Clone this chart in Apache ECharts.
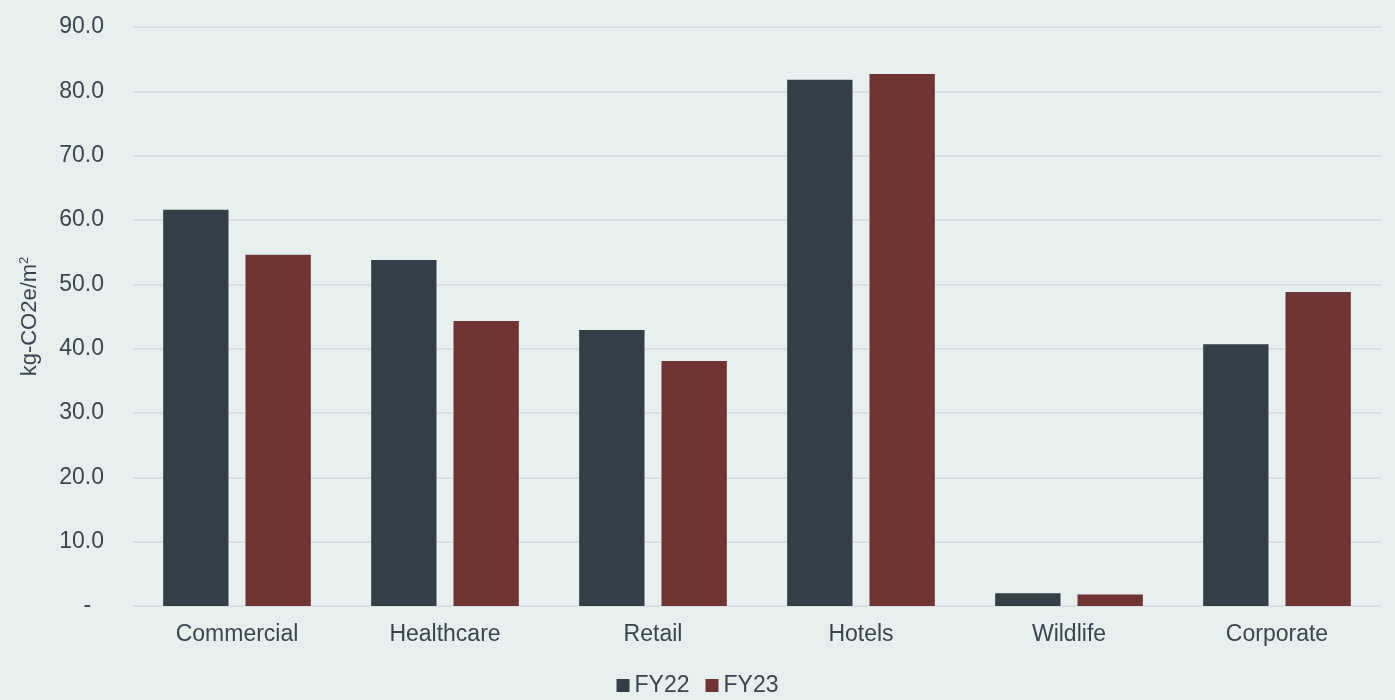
<!DOCTYPE html>
<html>
<head>
<meta charset="utf-8">
<style>
  html, body { margin: 0; padding: 0; background: #e6f0ee; }
  #chart { width: 1395px; height: 700px; }
</style>
<script src="https://cdn.jsdelivr.net/npm/echarts@6/dist/echarts.min.js"></script>
</head>
<body>
<div id="chart"></div>
<script>
// chart data
var categories = ['Commercial', 'Healthcare', 'Retail', 'Hotels', 'Wildlife', 'Corporate'];
var fy22 = [61.6, 53.8, 42.9, 81.8, 2.0, 40.7];
var fy23 = [54.6, 44.3, 38.1, 82.7, 1.8, 48.8];

var textColor = '#3b4550';
var font = 'Liberation Sans, Arial, sans-serif';

var chart = echarts.init(document.getElementById('chart'));
chart.setOption({
    backgroundColor: '#e6f0ee',
    animation: false,
    grid: {
        left: 133,
        right: 14,
        top: 27,
        bottom: 94
    },
    legend: {
        bottom: -2,
        left: 'center',
        itemWidth: 13,
        itemHeight: 13,
        itemGap: 16,
        icon: 'rect',
        textStyle: { color: textColor, fontSize: 23, fontFamily: font },
        data: ['FY22', 'FY23']
    },
    xAxis: {
        type: 'category',
        data: categories,
        axisLine: { show: false },
        axisTick: { show: false },
        axisLabel: { color: textColor, fontSize: 23, fontFamily: font, margin: 17 }
    },
    yAxis: {
        type: 'value',
        min: 0,
        max: 90,
        interval: 10,
        name: '{n|kg-CO2e/m}{s|2}',
        nameLocation: 'middle',
        nameGap: 92,
        nameTextStyle: {
            rich: {
                n: { color: textColor, fontSize: 22, fontFamily: font },
                s: { color: textColor, fontSize: 13, fontFamily: font, verticalAlign: 'top', padding: [0, 0, 10, 0] }
            }
        },
        axisLine: { show: false },
        axisTick: { show: false },
        splitLine: { lineStyle: { color: '#d8dee3', width: 2 } },
        axisLabel: {
            color: textColor,
            fontSize: 23,
            fontFamily: font,
            margin: 29,
            formatter: function (v) {
                return v === 0 ? '-  ' : v.toFixed(1);
            }
        }
    },
    series: [{
        name: 'FY22',
        type: 'bar',
        data: fy22,
        itemStyle: { color: '#343e47' },
        barGap: '26%',
        barCategoryGap: '29%'
    }, {
        name: 'FY23',
        type: 'bar',
        data: fy23,
        itemStyle: { color: '#703432' }
    }]
});
</script>
</body>
</html>
